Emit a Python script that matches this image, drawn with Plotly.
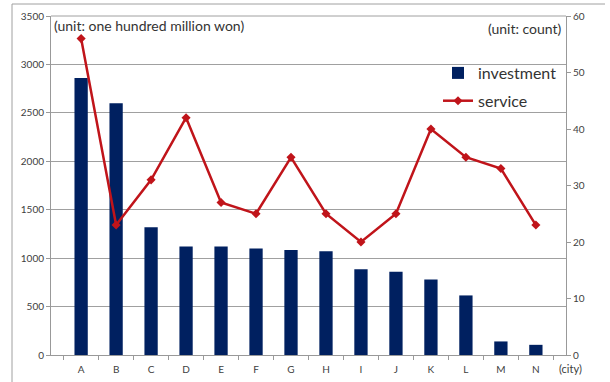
import plotly.graph_objects as go

cities = ["A", "B", "C", "D", "E", "F", "G", "H", "I", "J", "K", "L", "M", "N"]
investment = [2860, 2600, 1320, 1120, 1120, 1100, 1085, 1070, 885, 860, 780, 615, 140, 105]
service = [56, 23, 31, 42, 27, 25, 35, 25, 20, 25, 40, 35, 33, 23]

W, H = 610, 382
L, R, T, B = 51, 44, 16, 27
pw, ph = W - L - R, H - T - B

def px(x):
    return (x - L) / pw

def py(y):
    return (H - B - y) / ph

FONT = "Lato, 'Open Sans', sans-serif"
TXT = "#404040"

fig = go.Figure()
fig.add_trace(go.Bar(x=cities, y=investment, name="investment",
                     marker=dict(color="#002060", line=dict(width=0)),
                     width=0.38, yaxis="y", legendgroup="a"))
fig.add_trace(go.Scatter(x=cities, y=service, name="service", mode="lines+markers",
                         line=dict(color="#C0141A", width=2.5),
                         marker=dict(symbol="diamond", size=7, color="#C0141A"),
                         yaxis="y2", legendgroup="b"))

fig.update_layout(
    width=W, height=H,
    margin=dict(l=L, r=R, t=T, b=B, autoexpand=False),
    paper_bgcolor="white", plot_bgcolor="white",
    font=dict(family=FONT, color=TXT, size=10),
    showlegend=True,
    legend=dict(x=px(438), y=py(56), xanchor="left", yanchor="top",
                font=dict(size=16, color="#333333"), bgcolor="rgba(0,0,0,0)",
                tracegroupgap=4, itemwidth=30),
    xaxis=dict(type="category", showline=True, linecolor="#999999", linewidth=1,
               ticks="outside", tickson="boundaries", ticklen=4, tickcolor="#999999",
               tickfont=dict(size=10, color=TXT), showgrid=False, ticklabelstandoff=5,
               automargin=False),
    yaxis=dict(range=[0, 3500], dtick=500, showgrid=True, gridcolor="#A0A0A0",
               gridwidth=1, showline=True, linecolor="#999999", ticks="outside",
               ticklen=4, tickcolor="#999999", tickfont=dict(size=10, color=TXT),
               zeroline=False, automargin=False),
    yaxis2=dict(range=[0, 60], dtick=10, overlaying="y", side="right", showgrid=False,
                showline=True, linecolor="#999999", ticks="outside", ticklen=4,
                tickcolor="#999999", tickfont=dict(size=10, color=TXT), zeroline=False,
                automargin=False),
    bargap=0.62,
)

fig.add_annotation(x=px(52), y=py(25), xref="paper", yref="paper", xanchor="left",
                   yanchor="middle", text="(unit: one hundred million won)", showarrow=False,
                   font=dict(size=14, color="#333333"))
fig.add_annotation(x=px(564), y=py(28), xref="paper", yref="paper", xanchor="right",
                   yanchor="middle", text="(unit: count)", showarrow=False,
                   font=dict(size=14, color="#333333"))
fig.add_annotation(x=px(557), y=py(368), xref="paper", yref="paper", xanchor="left",
                   yanchor="middle", text="(city)", showarrow=False,
                   font=dict(size=11, color=TXT))

# outer chart frame
fig.add_shape(type="line", xref="paper", yref="paper", x0=px(12), x1=px(605),
              y0=py(4), y1=py(4), line=dict(color="#A0A0A0", width=1))
fig.add_shape(type="line", xref="paper", yref="paper", x0=px(12), x1=px(12),
              y0=py(4), y1=py(382), line=dict(color="#A0A0A0", width=1))
fig.add_shape(type="line", xref="paper", yref="paper", x0=0, x1=1,
              y0=1, y1=1, line=dict(color="#A0A0A0", width=1))

fig.write_html("out.html")
